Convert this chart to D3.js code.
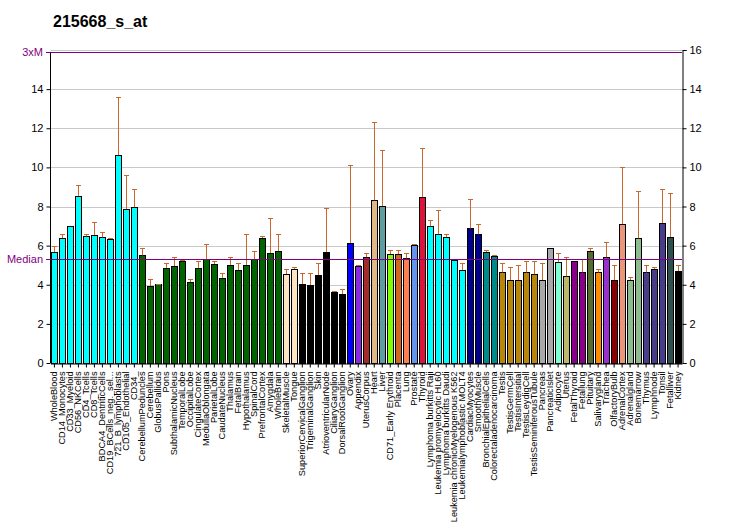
<!DOCTYPE html>
<html><head><meta charset="utf-8">
<script src="https://cdn.jsdelivr.net/npm/d3@7"></script>
<style>body{margin:0;background:#fff;} text{font-family:"Liberation Sans",Arial,sans-serif;}</style>
</head><body><svg id="c" width="732" height="530"></svg>
<script>
const title = "215668_s_at";
const categories = ["WholeBlood","CD14_Monocytes","CD33_Myeloid","CD56_NKCells","CD4_Tcells","CD8_Tcells","BDCA4_DentriticCells","CD19_BCells_neg._sel...","721_B_lymphoblasts","CD105_Endothelial","CD34_",
"CerebellumPeduncles","Cerebellum","GlobusPallidus","Pons","SubthalamicNucleus","TemporalLobe","OccipitalLobe","CingulateCortex","MedullaOblongata","ParietalLobe","CaudateNucleus","Thalamus","FetalBrain","Hypothalamus","SpinalCord","PrefrontalCortex","Amygdala","WholeBrain",
"SkeletalMuscle","Tongue","SuperiorCervicalGanglion","TrigeminalGanglion","Skin","AtrioventricularNode","CiliaryGanglion","DorsalRootGanglion","Ovary","Appendix","UterusCorpus","Heart","Liver","CD71_Early Erythroid","Placenta","Lung","Prostate","Thyroid",
"Lymphoma burkitts Raji","Leukemia promyelocytic HL60","Lymphoma burkitts Daudi","Leukemia chronicMyelogenous K562","Leukemialymphoblastic MOLT4","CardiacMyocytes","SmoothMuscle","BronchialEpithelialCells","Colorectaladenocarcinoma","Testis","TestisGermCell","TestisIntersitial","TestisLeydigCell","TestisSeminiferousTubule",
"Pancreas","PancreaticIslet","Adipocyte","Uterus","FetalThyroid","Fetallung","Pituitary","Salivarygland","Trachea","OlfactoryBulb","AdrenalCortex","Adrenalgland","Bonemarrow","Thymus","Lymphnode","Tonsil","Fetalliver","Kidney"];
const values = [5.67,6.39,6.99,8.54,6.47,6.54,6.42,6.34,10.62,7.86,7.96,
5.5,3.94,4.02,4.86,4.96,5.21,4.14,4.86,5.32,5.06,4.35,5.01,4.75,5.01,5.32,6.39,5.62,5.73,
4.55,4.81,4.04,3.99,4.5,5.67,3.63,3.53,6.13,4.96,5.42,8.32,8.03,5.57,5.57,5.35,6.03,8.49,
6.99,6.58,6.43,5.27,4.75,6.88,6.58,5.67,5.47,4.63,4.24,4.24,4.63,4.53,
4.24,5.86,5.15,4.43,5.21,4.63,5.73,4.63,5.4,4.24,7.11,4.24,6.37,4.63,4.81,7.16,6.44,4.7];
const errTops = [5.96,6.59,6.99,9.08,6.59,7.19,6.68,6.37,13.58,9.6,8.88,
5.86,4.28,4.06,5.11,5.4,5.26,4.29,5.21,6.08,5.21,4.58,5.4,5.09,6.59,5.73,6.47,7.4,6.57,
4.79,4.89,4.58,4.58,5.09,7.9,3.66,3.77,10.1,4.99,5.61,12.3,10.87,5.76,5.76,5.61,6.07,10.97,
7.29,7.8,6.57,5.3,5.09,8.37,7.09,5.76,5.5,5.09,4.89,4.99,5.2,5.2,
5.09,5.86,5.61,5.4,5.21,5.3,5.86,4.79,6.19,4.99,10.0,4.38,8.78,4.99,4.89,8.88,8.68,4.99];
const groupSizes = [11,18,2,6,1,1,1,1,1,1,1,1,1,1,5,2,2,5,2,1,1,2,1,1,1,1,1,2,3,1,2];
const groupColors = ["#00FFFF","#006400","#FFE4C4","#000000","#0000FF","#8A2BE2","#A52A2A","#DEB887","#5F9EA0","#7FFF00","#D2691E","#FF7F50","#6495ED","#DC143C","#00FFFF","#00008B","#008B8B","#B8860B","#A9A9A9","#7FFFD4","#BDB76B","#8B008B","#556B2F","#FF8C00","#9932CC","#8B0000","#E9967A","#8FBC8F","#483D8B","#2F4F4F"];
const median = 5.3, threeXM = 15.9;
const leftTicks = [0,2,4,6,8,10,12,14];
const rightTicks = [0,2,4,6,8,10,12,14,16];

const colors = [];
groupSizes.forEach((n,i)=>{for(let k=0;k<n;k++) colors.push(groupColors[i]);});
const data = categories.map((c,i)=>({c, v:values[i], e:errTops[i], col:colors[i]}));

const svg = d3.select("#c");
const x = d3.scaleBand().domain(categories).range([50.5,682]).paddingInner(0.22).paddingOuter(0.1);
const y = d3.scaleLinear().domain([0,16]).range([363,50]);

svg.append("text").attr("x",53).attr("y",27).attr("font-size",16).attr("font-weight","bold").text(title);

// gridlines
svg.append("g").selectAll("line").data(rightTicks.slice(1)).join("line")
  .attr("x1",50.5).attr("x2",682).attr("y1",d=>Math.round(y(d))+0.5).attr("y2",d=>Math.round(y(d))+0.5)
  .attr("stroke","#c8c8c8").attr("stroke-width",1);

// bars
svg.append("g").selectAll("rect").data(data).join("rect")
  .attr("x",d=>Math.round(x(d.c))+0.5).attr("width",Math.round(x.bandwidth()))
  .attr("y",d=>Math.round(y(d.v))+0.5).attr("height",d=>y(0)-Math.round(y(d.v)))
  .attr("fill",d=>d.col).attr("stroke","#000").attr("stroke-width",1);

// error bars
const eg = svg.append("g").attr("stroke","#C8682A").attr("stroke-width",1);
data.forEach(d=>{
  if (d.e - d.v < 0.02) return;
  const cx = Math.round(x(d.c)+x.bandwidth()/2)+0.5;
  eg.append("line").attr("x1",cx).attr("x2",cx).attr("y1",y(d.v)).attr("y2",Math.round(y(d.e))+0.5);
  eg.append("line").attr("x1",cx-2.5).attr("x2",cx+2.5).attr("y1",Math.round(y(d.e))+0.5).attr("y2",Math.round(y(d.e))+0.5);
});

// median and 3xM lines
[median, threeXM].forEach(v=>{
  svg.append("line").attr("x1",50.5).attr("x2",682).attr("y1",Math.round(y(v))+0.5).attr("y2",Math.round(y(v))+0.5)
    .attr("stroke","#800080").attr("stroke-width",1);
});

// axes
const la = svg.append("g").attr("transform","translate(50.5,0)")
  .call(d3.axisLeft(y).tickValues(leftTicks).tickSize(4).tickFormat(d3.format("d")));
const ra = svg.append("g").attr("transform","translate(682.5,0)")
  .call(d3.axisRight(y).tickValues(rightTicks).tickSize(4).tickFormat(d3.format("d")));
[la,ra].forEach(a=>{a.selectAll("text").attr("font-size",11).attr("fill","#000").style("font-family","Liberation Sans, Arial, sans-serif");
  a.select(".domain").attr("stroke","#000");});
la.select(".domain").attr("d","M0,"+y(threeXM)+"V"+y(0));

// purple left labels
[[threeXM,"3xM"],[median,"Median"]].forEach(([v,t])=>{
  svg.append("text").attr("x",43).attr("y",y(v)+4).attr("text-anchor","end").attr("font-size",11).attr("fill","#800080").text(t);
  svg.append("line").attr("x1",46).attr("x2",50.5).attr("y1",Math.round(y(v))+0.5).attr("y2",Math.round(y(v))+0.5).attr("stroke","#800080");
});

// bottom axis
const ba = svg.append("g").attr("transform","translate(0,363.5)")
  .call(d3.axisBottom(x).tickSize(4).tickSizeOuter(0));
ba.select(".domain").attr("stroke","#000");
ba.selectAll(".tick line").attr("stroke","#000");
ba.selectAll("text").attr("font-size",9.2).attr("fill","#000")
  .style("font-family","Liberation Sans, Arial, sans-serif")
  .attr("transform","rotate(-90)").attr("text-anchor","end")
  .attr("x",-8).attr("y",0).attr("dy","0.32em");
</script></body></html>
